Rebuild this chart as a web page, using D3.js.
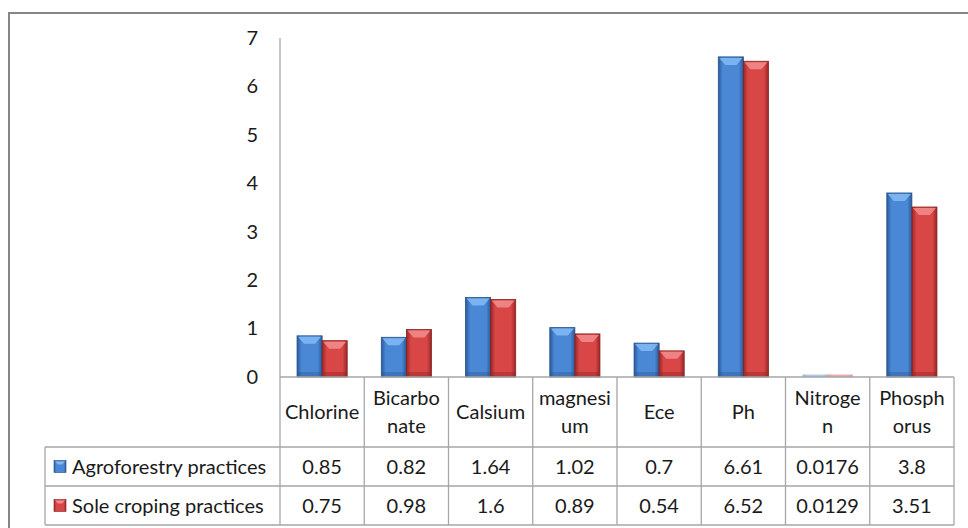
<!DOCTYPE html>
<html><head><meta charset="utf-8">
<script src="https://cdn.jsdelivr.net/npm/d3@7"></script>
<style>body{margin:0;background:#fff}svg{display:block}text{font-family:Lato,"Open Sans",sans-serif;fill:#1a1a1a}</style>
</head><body><svg id="c" width="968" height="528"></svg>
<script>
const categories = ["Chlorine","Bicarbonate","Calsium","magnesium","Ece","Ph","Nitrogen","Phosphorus"];
const categoryLines = [["Chlorine"],["Bicarbo","nate"],["Calsium"],["magnesi","um"],["Ece"],["Ph"],["Nitroge","n"],["Phosph","orus"]];
const seriesNames = ["Agroforestry practices","Sole croping practices"];
const agroforestry = [0.85,0.82,1.64,1.02,0.7,6.61,0.0176,3.8];
const soleCropping = [0.75,0.98,1.6,0.89,0.54,6.52,0.0129,3.51];
const agroLabels = ["0.85","0.82","1.64","1.02","0.7","6.61","0.0176","3.8"];
const soleLabels = ["0.75","0.98","1.6","0.89","0.54","6.52","0.0129","3.51"];
const yTicks = [0,1,2,3,4,5,6,7];

const svg = d3.select("#c");
const L = 280, R = 954, T = 38, B = 377;
const rows = [377, 447, 486, 525];
const legendLeft = 45;
const fs = 20;

const x = d3.scaleBand().domain(categories).range([L, R]).paddingInner(0).paddingOuter(0);
const sub = d3.scaleBand().domain([0,1]).range([0, x.bandwidth()]).paddingInner(0).paddingOuter(0.68);
const y = d3.scaleLinear().domain([0,7]).range([B, T]);

// outer border
svg.append("rect").attr("x",9).attr("y",13).attr("width",968).attr("height",530)
  .attr("fill","none").attr("stroke","#868686").attr("stroke-width",2);

// gradients
const defs = svg.append("defs");
const pal = [
  {id:"gb", edge:"#2a5a99", mid:"#4a88d6", top:"#80b8f2", shade:"#244f88"},
  {id:"gr", edge:"#992626", mid:"#d84646", top:"#f28a8a", shade:"#872020"}
];
pal.forEach(p=>{
  const g = defs.append("linearGradient").attr("id",p.id).attr("x1","0").attr("x2","1").attr("y1","0").attr("y2","0");
  g.append("stop").attr("offset","0").attr("stop-color",p.edge);
  g.append("stop").attr("offset","0.18").attr("stop-color",p.mid);
  g.append("stop").attr("offset","0.82").attr("stop-color",p.mid);
  g.append("stop").attr("offset","1").attr("stop-color",p.edge);
});

// y axis
const yAxis = d3.axisLeft(y).tickValues(yTicks).tickSize(0).tickPadding(22).tickFormat(d3.format("d"));
const ya = svg.append("g").attr("transform",`translate(${L},0)`).call(yAxis);
ya.select(".domain").remove();
ya.selectAll("text").attr("font-size",fs).attr("font-family","Lato").attr("fill","#1a1a1a");
svg.append("line").attr("x1",L).attr("x2",L).attr("y1",T).attr("y2",rows[3]).attr("stroke","#a6a6a6").attr("stroke-width",1.3);

// bars
const series = [agroforestry, soleCropping];
series.forEach((vals,si)=>{
  const p = pal[si];
  const g = svg.append("g");
  categories.forEach((c,i)=>{
    const v = vals[i];
    const bx = x(c) + sub(si), bw = sub.bandwidth();
    let by = y(v), bh = B - y(v);
    const faded = bh < 4;
    if (faded) { bh = Math.max(bh, 2.5); by = B - bh; }
    const grp = g.append("g").attr("opacity", faded ? 0.45 : 1);
    grp.append("rect").attr("x",bx).attr("y",by).attr("width",bw).attr("height",bh)
      .attr("fill",`url(#${p.id})`).attr("stroke",faded ? "none" : p.shade).attr("stroke-width",0.8);
    if (bh > 10) {
      const h = Math.min(8, bh/3);
      grp.append("path").attr("d",`M${bx+1},${by+1}L${bx+bw-1},${by+1}L${bx+bw-7},${by+h}L${bx+7},${by+h}Z`)
        .attr("fill",p.top).attr("opacity",0.9);
      grp.append("rect").attr("x",bx+1).attr("y",B-5).attr("width",bw-2).attr("height",4)
        .attr("fill",p.shade).attr("opacity",0.35);
    }
  });
});

// table lines
const lineColor = "#a6a6a6";
svg.append("line").attr("x1",L).attr("x2",R).attr("y1",rows[0]).attr("y2",rows[0]).attr("stroke",lineColor).attr("stroke-width",1.3);
[rows[1],rows[2],rows[3]].forEach(ry=>{
  svg.append("line").attr("x1",legendLeft).attr("x2",R).attr("y1",ry).attr("y2",ry).attr("stroke",lineColor).attr("stroke-width",1.3);
});
svg.append("line").attr("x1",legendLeft).attr("x2",legendLeft).attr("y1",rows[1]).attr("y2",rows[3]).attr("stroke",lineColor).attr("stroke-width",1.3);
categories.forEach((c,i)=>{
  const xr = x(c) + x.bandwidth();
  svg.append("line").attr("x1",xr).attr("x2",xr).attr("y1",rows[0]).attr("y2",rows[3]).attr("stroke",lineColor).attr("stroke-width",1.3);
});

// category labels
categories.forEach((c,i)=>{
  const lines = categoryLines[i];
  const cy = (rows[0]+rows[1])/2;
  const lh = 28;
  lines.forEach((ln,j)=>{
    svg.append("text").attr("x",x(c)+x.bandwidth()/2)
      .attr("y", cy + (j - (lines.length-1)/2)*lh)
      .attr("dy","0.35em").attr("text-anchor","middle").attr("font-size",fs).text(ln);
  });
});

// value rows
[agroLabels, soleLabels].forEach((labs,si)=>{
  const cy = (rows[si+1]+rows[si+2])/2;
  categories.forEach((c,i)=>{
    svg.append("text").attr("x",x(c)+x.bandwidth()/2).attr("y",cy).attr("dy","0.35em")
      .attr("text-anchor","middle").attr("font-size",fs).text(labs[i]);
  });
  const p = pal[si];
  svg.append("rect").attr("x",54).attr("y",cy-6).attr("width",12).attr("height",12)
    .attr("fill",`url(#${p.id})`).attr("stroke",p.shade).attr("stroke-width",0.6);
  svg.append("path").attr("d",`M55,${cy-5}L65,${cy-5}L62,${cy-2}L58,${cy-2}Z`).attr("fill",p.top);
  svg.append("text").attr("x",72).attr("y",cy).attr("dy","0.35em").attr("font-size",fs).text(seriesNames[si]);
});
</script></body></html>
